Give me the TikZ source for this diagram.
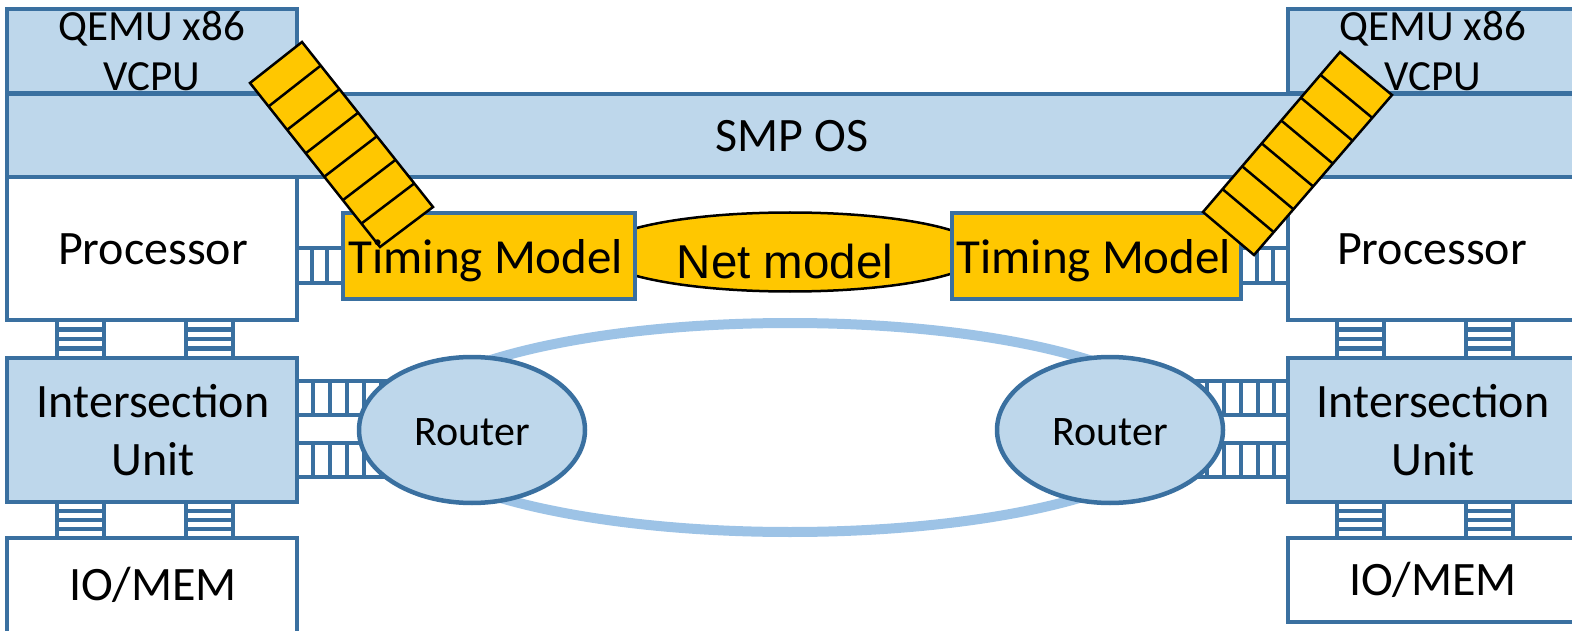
\documentclass[tikz,border=0pt]{standalone}
\usepackage{fontspec}
\setmainfont{Carlito}
\newfontfamily\arialfont{Liberation Sans}
\usetikzlibrary{calc,shapes.geometric}

\definecolor{edgeblue}{RGB}{58,112,160}
\definecolor{paleblue}{RGB}{190,215,235}
\definecolor{ringblue}{RGB}{157,195,230}
\definecolor{gold}{RGB}{255,199,0}

\tikzset{
  box/.style={draw=edgeblue, line width=4.5pt, fill=paleblue, rectangle, inner sep=0pt},
  whitebox/.style={box, fill=white},
  timebox/.style={box, fill=gold},
  routerbox/.style={draw=edgeblue, line width=4.5pt, fill=paleblue, ellipse, inner sep=0pt},
  netbox/.style={draw=black, line width=2.5pt, fill=gold, ellipse, inner sep=0pt},
  ring/.style={draw=ringblue, line width=10pt},
  ladder/.style={draw=edgeblue, line width=4.5pt},
  queue/.style={draw=black, line width=2.5pt, fill=gold, line join=miter},
  cell/.style={draw=black, line width=2.5pt},
  txt/.style={anchor=base, inner sep=0pt, text=black, font=\fontsize{48}{57}\selectfont},
  smalltxt/.style={txt, font=\fontsize{43}{51}\selectfont},
  routertxt/.style={txt, font=\fontsize{42}{50}\selectfont},
  tmtxt/.style={txt, font=\fontsize{49}{58}\selectfont},
  nettxt/.style={txt, font=\arialfont\fontsize{47.5}{57}\selectfont},
}

% ladder with horizontal rails and vertical rungs: x1, x2, y1, y2, rung list
\newcommand\railsH[5]{%
  \draw[ladder] (#1,#3) -- (#2,#3) (#1,#4) -- (#2,#4);
  \foreach \r in {#5} \draw[ladder] (\r,#3) -- (\r,#4);
}
% ladder with vertical rails and horizontal rungs: y1, y2, x1, x2, rung list
\newcommand\railsV[5]{%
  \draw[ladder] (#3,#1) -- (#3,#2) (#4,#1) -- (#4,#2);
  \foreach \r in {#5} \draw[ladder] (#3,\r) -- (#4,\r);
}

\begin{document}
\begin{tikzpicture}[x=1pt, y=-1pt]
\useasboundingbox (0,0) rectangle (1572,631);
\clip (0,0) rectangle (1572,631);

% ring between the routers
\draw[ring] (790,427.5) ellipse [x radius=392, y radius=104.5];

% network model between the timing models
\node[netbox, minimum width=386, minimum height=79] (net) at (790,252) {};

% links
\railsH{297}{343}{248}{283}{312,327}
\railsH{1241}{1288}{248}{283}{1257,1273}
\railsH{297}{400}{381}{415}{313,330,347,364,381}
\railsH{297}{400}{443}{477}{313,330,347,364,381}
\railsH{1180}{1288}{381}{415}{1190,1207,1224,1241,1258,1274}
\railsH{1180}{1288}{443}{477}{1190,1207,1224,1241,1258,1274}
\railsV{320}{358}{57}{104}{329.5,339,348.5}
\railsV{320}{358}{186}{233}{329.5,339,348.5}
\railsV{502}{538}{57}{104}{511,520,529}
\railsV{502}{538}{186}{233}{511,520,529}
\railsV{320}{358}{1337}{1384}{329.5,339,348.5}
\railsV{320}{358}{1466}{1513}{329.5,339,348.5}
\railsV{502}{538}{1337}{1384}{511,520,529}
\railsV{502}{538}{1466}{1513}{511,520,529}

% shared OS band
\node[box, minimum width=1583, minimum height=83] (smp) at (798.5,135.5) {};

% left node
\node[box, minimum width=290, minimum height=84] (qemuL) at (152,51) {};
\node[whitebox, minimum width=290, minimum height=143] (procL) at (152,248.5) {};
\node[box, minimum width=290, minimum height=144] (isuL) at (152,430) {};
\node[whitebox, minimum width=290, minimum height=180] (memL) at (152,628) {};

% right node
\node[box, minimum width=290, minimum height=84] (qemuR) at (1433,51) {};
\node[whitebox, minimum width=290, minimum height=143] (procR) at (1433,248.5) {};
\node[box, minimum width=290, minimum height=144] (isuR) at (1433,430) {};
\node[whitebox, minimum width=290, minimum height=84] (memR) at (1433,580) {};

% timing models
\node[timebox, minimum width=292, minimum height=86] (tmL) at (489,256) {};
\node[timebox, minimum width=289, minimum height=86] (tmR) at (1096.5,256) {};

% routers
\node[routerbox, minimum width=226, minimum height=146] (rtL) at (472,430) {};
\node[routerbox, minimum width=226, minimum height=146] (rtR) at (1110,430) {};

% queues between VCPU and timing model
\coordinate (qLa) at (250,83);
\coordinate (qLb) at (302,42);
\coordinate (qLc) at (433,207);
\coordinate (qLd) at (380,247);
\draw[queue] (qLa) -- (qLb) -- (qLc) -- (qLd) -- cycle;
\foreach \k in {1,...,6}
  \draw[cell] ($(qLa)!\k/7!(qLd)$) -- ($(qLb)!\k/7!(qLc)$);

\coordinate (qRa) at (1340,52);
\coordinate (qRb) at (1392,95);
\coordinate (qRc) at (1254,255);
\coordinate (qRd) at (1203,212);
\draw[queue] (qRa) -- (qRb) -- (qRc) -- (qRd) -- cycle;
\foreach \k in {1,...,6}
  \draw[cell] ($(qRa)!\k/7!(qRd)$) -- ($(qRb)!\k/7!(qRc)$);

% labels
\node[smalltxt] (tQL1) at (152,41) {QEMU x86};
\node[smalltxt] (tQL2) at (152,91) {VCPU};
\node[smalltxt] (tQR1) at (1433,41) {QEMU x86};
\node[smalltxt] (tQR2) at (1433,91) {VCPU};
\node[txt] (tSmp) at (792,152) {SMP OS};
\node[txt] (tPL) at (153,265) {Processor};
\node[txt] (tPR) at (1432,265) {Processor};
\node[txt] (tIL1) at (153,417) {Intersection};
\node[txt] (tIL2) at (153,475) {Unit};
\node[txt] (tIR1) at (1433,417) {Intersection};
\node[txt] (tIR2) at (1433,475) {Unit};
\node[txt] (tML) at (153,600) {IO/MEM};
\node[txt] (tMR) at (1433,595) {IO/MEM};
\node[tmtxt] (tTL) at (486,273) {Timing Model};
\node[tmtxt] (tTR) at (1094,273) {Timing Model};
\node[nettxt] (tNet) at (785,279) {Net model};
\node[routertxt] (tRL) at (472,445) {Router};
\node[routertxt] (tRR) at (1110,445) {Router};
\end{tikzpicture}
\end{document}
